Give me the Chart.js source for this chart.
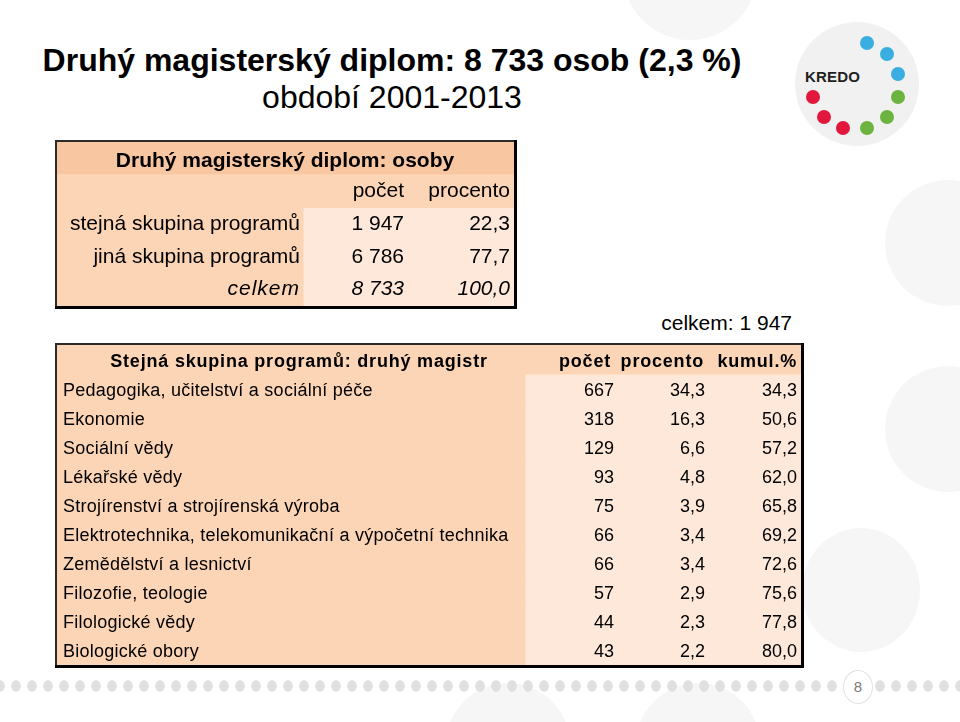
<!DOCTYPE html>
<html lang="cs">
<head>
<meta charset="utf-8">
<title>Druhý magisterský diplom</title>
<script src="https://cdn.jsdelivr.net/npm/chart.js@4.4.0/dist/chart.umd.min.js"></script>
<style>
html,body{margin:0;padding:0;background:#fff;}
body{width:960px;height:722px;overflow:hidden;position:relative;font-family:"Liberation Sans",Arial,sans-serif;color:#000;}
.abs{position:absolute;}
.pale{position:absolute;border-radius:50%;background:#f6f6f6;}
.dot{position:absolute;width:14px;height:14px;border-radius:50%;}
#title{left:0;width:784px;top:44px;text-align:center;font-weight:bold;font-size:32px;line-height:32px;white-space:nowrap;}
#subtitle{left:0;width:784px;top:81px;text-align:center;font-size:32px;line-height:32px;white-space:nowrap;}
#total{right:168px;top:312px;font-size:21px;line-height:21px;white-space:nowrap;}
#dotrow{left:0;top:680px;width:960px;height:12px;
  background-image:radial-gradient(ellipse 5px 6px at 8px 6px,#e0e0e0 90%,rgba(224,224,224,0) 100%);
  background-size:16px 12px;background-repeat:repeat-x;background-position:-8px 0;}
#pagenum{left:843px;top:670px;width:28px;height:32px;border:1px solid #e2e2e2;border-radius:50%;background:#fff;
  text-align:center;font-size:15px;line-height:32px;color:#7a7a7a;}
#kredo{left:805px;top:69px;font-weight:bold;font-size:15px;line-height:15px;color:#231f20;letter-spacing:0.2px;}
canvas{position:absolute;}
</style>
</head>
<body>
<!-- decorative background circles -->
<div class="pale" style="left:622px;top:-100px;width:136px;height:140px;"></div>
<div class="pale" style="left:885px;top:180px;width:126px;height:126px;"></div>
<div class="pale" style="left:885px;top:366px;width:126px;height:126px;"></div>
<div class="pale" style="left:802px;top:528px;width:118px;height:124px;"></div>
<div class="pale" style="left:446px;top:683px;width:124px;height:124px;"></div>
<div class="pale" style="left:636px;top:683px;width:124px;height:124px;"></div>

<!-- logo -->
<div class="pale" style="left:795px;top:22px;width:124px;height:124px;background:#f1f1f1;"></div>
<div class="dot" style="left:860px;top:36px;background:#3aaee0;"></div>
<div class="dot" style="left:880px;top:47px;background:#3aaee0;"></div>
<div class="dot" style="left:891px;top:67px;background:#3aaee0;"></div>
<div class="dot" style="left:891px;top:90px;background:#6db33f;"></div>
<div class="dot" style="left:880px;top:110px;background:#6db33f;"></div>
<div class="dot" style="left:860px;top:121px;background:#6db33f;"></div>
<div class="dot" style="left:836px;top:121px;background:#e2173d;"></div>
<div class="dot" style="left:817px;top:110px;background:#e2173d;"></div>
<div class="dot" style="left:806px;top:90px;background:#e2173d;"></div>
<div id="kredo" class="abs">KREDO</div>

<div id="title" class="abs">Druhý magisterský diplom: 8 733 osob (2,3 %)</div>
<div id="subtitle" class="abs">období 2001-2013</div>
<div id="total" class="abs"></div>

<div id="dotrow" class="abs"></div>
<div id="pagenum" class="abs">8</div>

<canvas id="summary" width="466" height="173" style="left:54px;top:139px;width:466px;height:173px;"></canvas>
<canvas id="fieldsTable" width="753" height="330" style="left:54px;top:342px;width:753px;height:330px;"></canvas>

<script>
// ---------- DATA ----------
const summaryTitle = 'Druhý magisterský diplom: osoby';
const summaryColumns = ['počet', 'procento'];
const summaryCategories = ['stejná skupina programů', 'jiná skupina programů', 'celkem'];
const summaryCounts = [1947, 6786, 8733];
const summaryPercents = [22.3, 77.7, 100.0];

const sameGroupTotal = 1947;

const fieldTitle = 'Stejná skupina programů: druhý magistr';
const fieldColumns = ['počet', 'procento', 'kumul.%'];
const fields = [
  'Pedagogika, učitelství a sociální péče',
  'Ekonomie',
  'Sociální vědy',
  'Lékařské vědy',
  'Strojírenství a strojírenská výroba',
  'Elektrotechnika, telekomunikační a výpočetní technika',
  'Zemědělství a lesnictví',
  'Filozofie, teologie',
  'Filologické vědy',
  'Biologické obory'
];
const fieldCounts = [667, 318, 129, 93, 75, 66, 66, 57, 44, 43];
const fieldPercents = [34.3, 16.3, 6.6, 4.8, 3.9, 3.4, 3.4, 2.9, 2.3, 2.2];
const fieldCumulative = [34.3, 50.6, 57.2, 62.0, 65.8, 69.2, 72.6, 75.6, 77.8, 80.0];

// ---------- STYLE / LAYOUT ----------
const FONT = '"Liberation Sans", Arial, sans-serif';
const HEADER_BG = '#f8c6a0';
const PEACH = '#fcd5b6';
const LIGHT = '#fde8da';

const fmtInt = n => String(n).replace(/\B(?=(\d{3})+(?!\d))/g, ' ');
const fmtPct = v => v.toFixed(1).replace('.', ',');

document.getElementById('total').textContent = 'celkem: ' + fmtInt(sameGroupTotal);

function drawText(ctx, s, px, py, align, font, spacing) {
  ctx.save();
  ctx.font = font;
  ctx.fillStyle = '#000';
  ctx.textAlign = align;
  ctx.textBaseline = 'middle';
  if ('letterSpacing' in ctx) ctx.letterSpacing = (spacing || 0) + 'px';
  ctx.fillText(s, px, py);
  ctx.restore();
}

const borderPlugin = {
  id: 'tableBorder',
  afterDraw(chart) {
    const { ctx, chartArea: a } = chart;
    const w = a.right - a.left, h = a.bottom - a.top;
    ctx.save();
    ctx.fillStyle = '#2b2b2b';
    ctx.fillRect(a.left - 2, a.top - 2, w + 4, 2);
    ctx.fillRect(a.left - 2, a.top - 2, 2, h + 4);
    ctx.fillStyle = '#000';
    ctx.fillRect(a.right, a.top - 2, 3, h + 5);
    ctx.fillRect(a.left - 2, a.bottom, w + 5, 3);
    ctx.restore();
  }
};

function baseOptions(width, pad) {
  return {
    indexAxis: 'y',
    responsive: false,
    animation: false,
    events: [],
    layout: { padding: pad },
    plugins: { legend: { display: false }, tooltip: { enabled: false }, title: { display: false } },
    scales: {
      x: { type: 'linear', min: 0, max: width, display: false },
      y: { type: 'category', display: false, offset: true, grid: { display: false } }
    }
  };
}

const barCommon = { grouped: false, barPercentage: 1, categoryPercentage: 1, borderWidth: 0, inflateAmount: 0.5 };

// ---------- TABLE 1: summary ----------
const T1 = { width: 457, cellStart: 246, labelRight: 243, col1Right: 347, col2Right: 453, titleCenter: 228 };
const t1Rows = [summaryTitle, 'columns', ...summaryCategories];

new Chart(document.getElementById('summary'), {
  type: 'bar',
  data: {
    labels: t1Rows,
    datasets: [
      Object.assign({
        label: 'row',
        data: t1Rows.map((_, i) => i < 2 ? [0, T1.width] : [0, T1.cellStart]),
        backgroundColor: t1Rows.map((_, i) => i === 0 ? HEADER_BG : PEACH)
      }, barCommon),
      Object.assign({
        label: 'cells',
        data: t1Rows.map((_, i) => i < 2 ? null : [T1.cellStart, T1.width]),
        backgroundColor: LIGHT
      }, barCommon)
    ]
  },
  options: baseOptions(T1.width, { left: 3, top: 3, right: 6, bottom: 6 }),
  plugins: [borderPlugin, {
    id: 'summaryText',
    afterDatasetsDraw(chart) {
      const { ctx, scales: { x, y } } = chart;
      const f = (style, size) => style + ' ' + size + 'px ' + FONT;
      drawText(ctx, summaryTitle, x.getPixelForValue(T1.titleCenter), y.getPixelForValue(0) + 3, 'center', f('bold', 21), 0);
      drawText(ctx, summaryColumns[0], x.getPixelForValue(T1.col1Right), y.getPixelForValue(1), 'right', f('normal', 21), 0);
      drawText(ctx, summaryColumns[1], x.getPixelForValue(T1.col2Right), y.getPixelForValue(1), 'right', f('normal', 21), 0);
      summaryCategories.forEach((c, i) => {
        const isTotal = i === summaryCategories.length - 1;
        const st = isTotal ? 'italic' : 'normal';
        const py = y.getPixelForValue(i + 2);
        drawText(ctx, c, x.getPixelForValue(T1.labelRight), py, 'right', f(st, 21), isTotal ? 1 : 0);
        drawText(ctx, fmtInt(summaryCounts[i]), x.getPixelForValue(T1.col1Right), py, 'right', f(st, 21), 0);
        drawText(ctx, fmtPct(summaryPercents[i]), x.getPixelForValue(T1.col2Right), py, 'right', f(st, 21), 0);
      });
    }
  }]
});

// ---------- TABLE 2: fields ----------
const T2 = { width: 744, cellStart: 468, labelLeft: 6, titleCenter: 242,
  headRight: [554, 647, 740], valRight: [557, 648, 740] };
const t2Rows = [fieldTitle, ...fields];

new Chart(document.getElementById('fieldsTable'), {
  type: 'bar',
  data: {
    labels: t2Rows,
    datasets: [
      Object.assign({
        label: 'row',
        data: t2Rows.map((_, i) => i === 0 ? [0, T2.width] : [0, T2.cellStart]),
        backgroundColor: PEACH
      }, barCommon),
      Object.assign({
        label: 'cells',
        data: t2Rows.map((_, i) => i === 0 ? null : [T2.cellStart, T2.width]),
        backgroundColor: LIGHT
      }, barCommon)
    ]
  },
  options: baseOptions(T2.width, { left: 3, top: 3, right: 6, bottom: 7 }),
  plugins: [borderPlugin, {
    id: 'fieldsText',
    afterDatasetsDraw(chart) {
      const { ctx, scales: { x, y } } = chart;
      const bold = 'bold 18px ' + FONT, reg = 'normal 18px ' + FONT;
      const hy = y.getPixelForValue(0) + 2;
      drawText(ctx, fieldTitle, x.getPixelForValue(T2.titleCenter), hy, 'center', bold, 0.8);
      fieldColumns.forEach((c, k) => drawText(ctx, c, x.getPixelForValue(T2.headRight[k]), hy, 'right', bold, 0.8));
      fields.forEach((name, i) => {
        const py = y.getPixelForValue(i + 1) + 2;
        drawText(ctx, name, x.getPixelForValue(T2.labelLeft), py, 'left', reg, 0.25);
        drawText(ctx, fmtInt(fieldCounts[i]), x.getPixelForValue(T2.valRight[0]), py, 'right', reg, 0);
        drawText(ctx, fmtPct(fieldPercents[i]), x.getPixelForValue(T2.valRight[1]), py, 'right', reg, 0);
        drawText(ctx, fmtPct(fieldCumulative[i]), x.getPixelForValue(T2.valRight[2]), py, 'right', reg, 0);
      });
    }
  }]
});
</script>
</body>
</html>
